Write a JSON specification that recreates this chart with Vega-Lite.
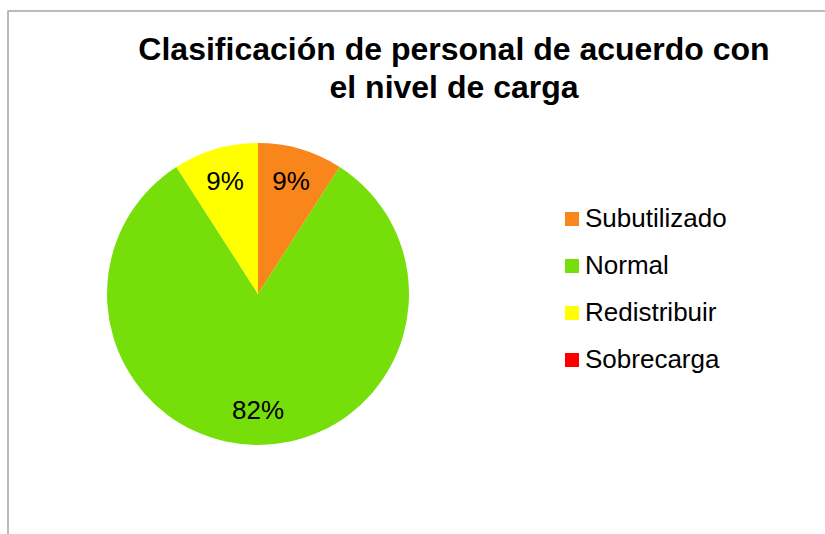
{
  "$schema": "https://vega.github.io/schema/vega-lite/v6.json",
  "width": 892,
  "height": 566,
  "autosize": "none",
  "padding": {"left": 8, "top": 11, "right": 0, "bottom": 0},
  "background": "white",
  "config": {
    "view": {"stroke": "#A6A6A6", "strokeWidth": 1.5},
    "font": "Liberation Sans"
  },
  "title": {
    "text": ["Clasificación de personal de acuerdo con", "el nivel de carga"],
    "fontSize": 32,
    "font": "Liberation Sans",
    "fontWeight": "bold",
    "color": "black",
    "anchor": "middle",
    "offset": -94,
    "lineHeight": 38
  },
  "data": {
    "values": [
      {"categoria": "Subutilizado", "personas": 1, "etiqueta": "9%", "orden": 1},
      {"categoria": "Normal", "personas": 9, "etiqueta": "82%", "orden": 2},
      {"categoria": "Redistribuir", "personas": 1, "etiqueta": "9%", "orden": 3},
      {"categoria": "Sobrecarga", "personas": 0, "etiqueta": "", "orden": 4}
    ]
  },
  "encoding": {
    "theta": {"field": "personas", "type": "quantitative", "stack": true},
    "order": {"field": "orden", "type": "quantitative"},
    "x": {"datum": 0.2803, "type": "quantitative", "scale": {"domain": [0, 1], "nice": false, "zero": false}, "axis": null}
  },
  "layer": [
    {
      "mark": {"type": "arc", "outerRadius": 151},
      "encoding": {
        "color": {
          "field": "categoria",
          "type": "nominal",
          "scale": {
            "domain": ["Subutilizado", "Normal", "Redistribuir", "Sobrecarga"],
            "range": ["#F9861B", "#76DE08", "#FFFF00", "#FF0000"]
          },
          "legend": {
            "title": null,
            "orient": "none",
            "legendX": 551,
            "legendY": 195,
            "symbolType": "square",
            "symbolSize": 196,
            "symbolStrokeWidth": 0,
            "symbolOpacity": 1,
            "labelFontSize": 26,
            "labelFont": "Liberation Sans",
            "labelColor": "black",
            "labelOffset": 0,
            "rowPadding": 21,
            "labelLimit": 300
          }
        }
      }
    },
    {
      "mark": {"type": "text", "radius": 117, "fontSize": 26, "font": "Liberation Sans", "color": "black"},
      "encoding": {"text": {"field": "etiqueta", "type": "nominal"}}
    }
  ]
}
